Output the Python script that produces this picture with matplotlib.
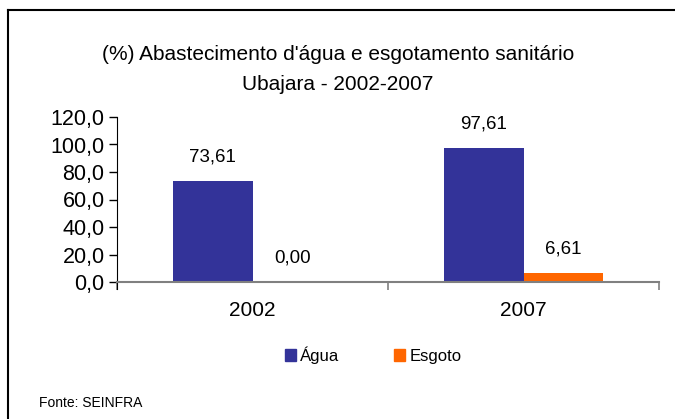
import matplotlib.pyplot as plt
from matplotlib.lines import Line2D
from matplotlib.patches import Patch

plt.rcParams['font.family'] = ['Liberation Sans', 'DejaVu Sans']

years = ["2002", "2007"]
agua = [73.61, 97.61]
esgoto = [0.00, 6.61]
series_names = ["Água", "Esgoto"]
colors = ["#333399", "#FF6600"]

W, H = 675, 419
fig = plt.figure(figsize=(W / 100, H / 100), dpi=100)

# outer frame (top and left only visible)
fig.add_artist(Line2D([8 / W, 1], [1 - 10 / H, 1 - 10 / H], color="black", lw=1.5))
fig.add_artist(Line2D([8 / W, 8 / W], [0, 1 - 10 / H], color="black", lw=1.5))

ax = fig.add_axes([117 / W, (H - 282) / H, (659 - 117) / W, (282 - 117) / H])

x = list(range(len(years)))
bw = 0.295
ax.bar([i - bw / 2 for i in x], agua, bw, color=colors[0])
ax.bar([i + bw / 2 for i in x], esgoto, bw, color=colors[1])

for i in x:
    ax.annotate(f"{agua[i]:.2f}".replace(".", ","), (i - bw / 2, agua[i]),
                xytext=(0, 17), textcoords="offset points", ha="center", va="center", fontsize=13.5)
    ax.annotate(f"{esgoto[i]:.2f}".replace(".", ","), (i + bw / 2, esgoto[i]),
                xytext=(0, 17), textcoords="offset points", ha="center", va="center", fontsize=13.5)

ax.set_xlim(-0.5, 1.5)
ax.set_ylim(0, 120)
ax.set_yticks(range(0, 121, 20))
ax.set_yticklabels([f"{v:.1f}".replace(".", ",") for v in range(0, 121, 20)], fontsize=15.5)
ax.set_xticks([-0.5, 0.5, 1.5])
ax.set_xticklabels([])
ax.set_xticks(x, minor=True)
ax.set_xticklabels(years, minor=True, fontsize=15)
ax.tick_params(axis="x", which="minor", length=0, pad=14)
ax.tick_params(axis="x", which="major", length=6, color="#808080", width=1.2)
ax.tick_params(axis="y", length=6, width=1, color="black", pad=3)

for s in ["top", "right"]:
    ax.spines[s].set_visible(False)
ax.spines["bottom"].set_color("#808080")
ax.spines["bottom"].set_linewidth(1.5)
ax.spines["left"].set_color("black")
ax.spines["left"].set_bounds(-5, 120)
ax.spines["bottom"].set_bounds(-0.5, 1.5)

fig.text(338 / W, 1 - 54 / H, "(%) Abastecimento d'água e esgotamento sanitário",
         ha="center", va="center", fontsize=15)
fig.text(338 / W, 1 - 85 / H, "Ubajara - 2002-2007", ha="center", va="center", fontsize=15)

handles = [Patch(color=c) for c in colors]
fig.legend(handles, series_names, loc="center", bbox_to_anchor=(373 / W, 1 - 355 / H),
           ncol=2, frameon=False, fontsize=12, handlelength=0.66, handleheight=0.66,
           handletextpad=0.25, columnspacing=3.3)

fig.text(39 / W, 1 - 403 / H, "Fonte: SEINFRA", ha="left", va="center", fontsize=10)

fig.savefig("out.png", dpi=100)
